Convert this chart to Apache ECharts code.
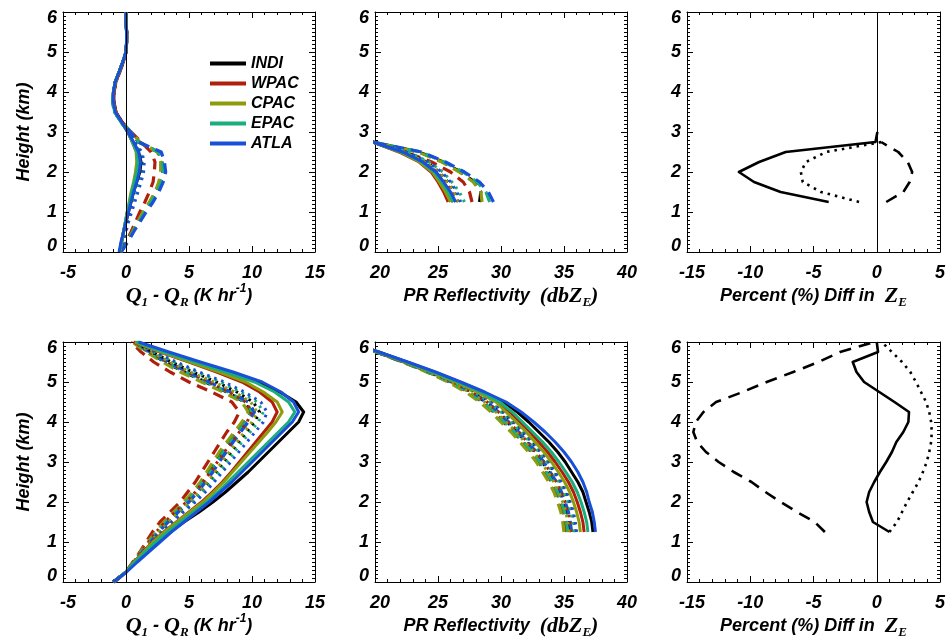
<!DOCTYPE html>
<html>
<head>
<meta charset="utf-8">
<script src="https://cdn.jsdelivr.net/npm/echarts@6/dist/echarts.min.js"></script>
<style>
  html, body { margin: 0; padding: 0; background: #fff; }
  #chart { width: 949px; height: 642px; }
</style>
</head>
<body>
<div id="chart"></div>
<script>
// ---- Regions ----
const regions = ['INDI', 'WPAC', 'CPAC', 'EPAC', 'ATLA'];

// ---- Axis ranges and ticks ----
const xRangeQ1 = [-5, 15];
const xRangeZ = [20, 40];
const xRangeDiff = [-15, 5];
const yRangeHeight = [0, 6];
const xTickStep = 5;
const yTickStep = 1;

// ---- Height levels (km) ----
const heightsFull = [0, 0.25, 0.5, 0.75, 1, 1.25, 1.5, 1.75, 2, 2.25, 2.5, 2.75, 3,
  3.25, 3.5, 3.75, 4, 4.25, 4.5, 4.75, 5, 5.25, 5.5, 5.75, 6];
const heightsZStrat = [1.25, 1.5, 1.75, 2, 2.25, 2.5, 2.75];
const heightsZConv = [1.25, 1.5, 1.75, 2, 2.25, 2.5, 2.75, 3, 3.25, 3.5, 3.75, 4,
  4.25, 4.5, 4.75, 5, 5.25, 5.5, 5.75, 6];
const heightsDiffStratSolid = [1.25, 1.5, 1.75, 2, 2.25, 2.5, 2.75, 3];
const heightsDiffStrat = [1.25, 1.5, 1.75, 2, 2.25, 2.5, 2.75];
const heightsDiffConv = heightsZConv;

// ---- Upper row: Q1 - QR (K/hr), rows = INDI, WPAC, CPAC, EPAC, ATLA ----
const q1StratSolid = [
  [-0.5,-0.35,-0.2,0.0,0.2,0.4,0.6,0.85,1.1,1.2,1.0,0.55,0.15,-0.35,-0.8,-1.0,-1.0,-0.85,-0.55,-0.25,0.0,0.05,0.05,0.0,0.0],
  [-0.5,-0.35,-0.2,-0.05,0.1,0.3,0.45,0.65,0.8,0.9,0.85,0.5,0.15,-0.35,-0.8,-0.95,-0.95,-0.8,-0.5,-0.2,0.0,0.05,0.05,0.0,0.0],
  [-0.5,-0.35,-0.2,-0.05,0.1,0.25,0.4,0.6,0.75,0.85,0.8,0.5,0.15,-0.4,-0.85,-1.0,-1.0,-0.85,-0.55,-0.25,0.0,0.05,0.05,0.0,0.0],
  [-0.5,-0.35,-0.2,-0.05,0.1,0.3,0.45,0.65,0.85,0.95,0.85,0.5,0.15,-0.4,-0.9,-1.05,-1.0,-0.85,-0.55,-0.25,0.0,0.05,0.05,0.0,0.0],
  [-0.55,-0.4,-0.2,0.0,0.2,0.4,0.6,0.85,1.05,1.15,1.0,0.6,0.15,-0.35,-0.85,-1.0,-1.0,-0.85,-0.55,-0.25,0.0,0.05,0.05,0.0,0.0]
];
const q1StratDotted = [
  [-0.5,-0.3,-0.1,0.1,0.3,0.5,0.7,0.95,1.2,1.3,1.1,0.6,0.15,-0.35,-0.8,-1.0,-1.0,-0.85,-0.55,-0.25,0,0.05,0.05,0,0],
  [-0.5,-0.3,-0.1,0.05,0.2,0.4,0.6,0.8,1.0,1.1,0.95,0.55,0.15,-0.35,-0.8,-0.95,-0.95,-0.8,-0.5,-0.2,0,0.05,0.05,0,0],
  [-0.5,-0.3,-0.1,0.05,0.25,0.45,0.65,0.85,1.05,1.15,1.0,0.55,0.15,-0.4,-0.85,-1.0,-1.0,-0.85,-0.55,-0.25,0,0.05,0.05,0,0],
  [-0.5,-0.3,-0.1,0.1,0.3,0.55,0.75,1.0,1.2,1.3,1.1,0.6,0.15,-0.4,-0.9,-1.05,-1.0,-0.85,-0.55,-0.25,0,0.05,0.05,0,0],
  [-0.45,-0.2,0.0,0.2,0.45,0.7,0.95,1.2,1.4,1.45,1.25,0.7,0.2,-0.35,-0.9,-1.0,-1.0,-0.85,-0.55,-0.25,0,0.05,0.05,0,0]
];
const q1StratDashed = [
  [-0.4,0.1,0.5,0.95,1.45,1.95,2.4,2.75,2.9,2.85,2.55,1.0,0.35,-0.35,-0.85,-1.0,-1.0,-0.85,-0.55,-0.25,0,0.05,0.05,0,0],
  [-0.45,0.0,0.4,0.75,1.1,1.5,1.85,2.15,2.25,2.3,2.0,1.2,0.4,-0.3,-0.8,-0.95,-0.95,-0.8,-0.5,-0.2,0,0.05,0.05,0,0],
  [-0.4,0.05,0.5,0.9,1.35,1.85,2.3,2.6,2.75,2.75,2.5,1.1,0.4,-0.35,-0.85,-1.0,-1.0,-0.85,-0.55,-0.25,0,0.05,0.05,0,0],
  [-0.4,0.1,0.55,1.0,1.5,2.0,2.45,2.8,2.95,2.9,2.6,1.0,0.4,-0.35,-0.9,-1.05,-1.0,-0.85,-0.55,-0.25,0,0.05,0.05,0,0],
  [-0.4,0.15,0.6,1.1,1.6,2.15,2.6,2.95,3.15,3.05,2.8,1.0,0.35,-0.35,-0.95,-1.05,-1.0,-0.85,-0.55,-0.25,0,0.05,0.05,0,0]
];

// ---- Upper row: PR reflectivity (dBZ) ----
const zStratSolid = [
  [26.2,25.8,25.3,24.7,23.7,22.1,19.8],
  [25.8,25.45,25.0,24.45,23.5,21.9,19.8],
  [26.0,25.6,25.1,24.55,23.55,22.0,19.8],
  [26.2,25.8,25.3,24.7,23.7,22.1,19.8],
  [26.4,26.0,25.45,24.85,23.8,22.2,19.8]
];
const zStratDotted = [
  [26.6,26.3,25.8,25.1,24.1,22.4,19.8],
  [26.4,26.1,25.6,24.9,23.9,22.3,19.8],
  [26.6,26.3,25.75,25.05,24.0,22.35,19.8],
  [27.1,26.7,26.1,25.4,24.3,22.6,19.8],
  [26.8,26.5,26.0,25.3,24.2,22.5,19.8]
];
const zStratDashed = [
  [28.3,28.4,27.9,26.8,25.4,23.5,19.8],
  [27.7,27.5,27.0,26.0,24.5,22.4,19.8],
  [28.5,28.4,27.8,26.7,25.3,23.4,19.8],
  [29.1,28.8,28.1,27.0,25.5,23.6,19.8],
  [29.4,29.0,28.3,27.1,25.6,23.7,19.8]
];

// ---- Upper row: percent difference in Z_E ----
const diffStratSolid = [-3.8,-7.6,-9.7,-10.9,-9.3,-7.2,-0.1,0.05];
const diffStratDotted = [-1.4,-4.4,-5.85,-6.0,-5.6,-4.0,0.4];
const diffStratDashed = [0.75,2.1,2.6,2.8,2.45,1.7,0.35];

// ---- Lower row: Q1 - QR (K/hr) ----
const q1ConvSolid = [
  [-1.0,0.0,0.7,1.5,2.4,3.5,4.6,5.8,6.9,7.9,8.8,9.7,10.5,11.3,12.1,12.9,13.7,14.1,13.5,12.2,10.4,8.0,5.5,3.0,0.9],
  [-1.0,0.0,0.65,1.35,2.1,3.0,4.0,5.0,6.0,6.85,7.65,8.35,9.0,9.65,10.3,10.95,11.6,12.0,11.6,10.6,9.2,7.2,5.0,2.7,0.6],
  [-1.0,0.0,0.65,1.4,2.15,3.05,4.05,5.05,6.1,6.95,7.75,8.45,9.15,9.85,10.55,11.25,11.9,12.4,12.0,10.9,9.5,7.4,5.1,2.8,0.7],
  [-1.0,0.0,0.7,1.5,2.35,3.3,4.3,5.35,6.4,7.3,8.1,8.9,9.7,10.5,11.3,12.1,12.9,13.4,12.9,11.8,10.2,7.9,5.5,3.0,0.8],
  [-1.0,0.05,0.9,1.8,2.7,3.6,4.6,5.6,6.6,7.5,8.4,9.2,10.0,10.8,11.6,12.4,13.2,13.7,13.3,12.3,10.8,8.5,5.9,3.4,1.0]
];
const q1ConvDashed = [
  [-1.0,0.0,0.6,1.2,1.85,2.5,3.2,4.0,4.8,5.5,6.1,6.6,7.1,7.6,8.2,8.8,9.4,9.9,9.4,8.0,6.3,4.6,3.1,1.8,0.6],
  [-0.9,0.0,0.55,1.1,1.6,2.1,2.7,3.5,4.3,4.9,5.5,6.0,6.5,7.0,7.5,8.0,8.6,9.0,8.4,6.8,5.0,3.5,2.2,1.2,0.4],
  [-1.0,0.0,0.6,1.15,1.75,2.35,3.0,3.8,4.6,5.3,5.9,6.4,6.9,7.4,8.0,8.6,9.2,9.7,9.2,7.7,6.0,4.3,2.9,1.6,0.5],
  [-1.0,0.0,0.6,1.2,1.85,2.5,3.2,4.0,4.8,5.5,6.1,6.7,7.2,7.7,8.3,8.9,9.5,10.0,9.5,8.1,6.4,4.7,3.2,1.8,0.6],
  [-1.0,0.0,0.65,1.3,1.95,2.6,3.35,4.15,5.0,5.7,6.3,6.9,7.4,7.95,8.5,9.1,9.7,10.2,9.7,8.3,6.6,4.9,3.3,1.9,0.7]
];
const q1ConvDotted = [
  [-1.0,0.0,0.65,1.3,2.0,2.7,3.45,4.3,5.2,5.95,6.6,7.2,7.8,8.4,9.0,9.6,10.2,10.6,10.1,8.8,7.2,5.3,3.6,2.1,0.7],
  [-1.0,0.0,0.6,1.2,1.8,2.4,3.1,3.9,4.8,5.5,6.1,6.7,7.25,7.8,8.4,9.0,9.6,10.0,9.5,8.2,6.6,4.9,3.3,1.9,0.6],
  [-1.0,0.0,0.65,1.3,1.95,2.6,3.35,4.2,5.05,5.8,6.45,7.05,7.6,8.2,8.8,9.4,10.0,10.4,9.9,8.6,7.0,5.1,3.5,2.0,0.7],
  [-1.0,0.0,0.7,1.35,2.05,2.8,3.6,4.45,5.35,6.1,6.8,7.4,8.0,8.6,9.2,9.85,10.5,10.9,10.4,9.1,7.5,5.6,3.8,2.2,0.8],
  [-1.0,0.0,0.7,1.4,2.1,2.85,3.65,4.55,5.5,6.3,7.0,7.65,8.3,8.95,9.6,10.25,10.9,11.2,10.7,9.4,7.8,5.8,4.0,2.3,0.8]
];

// ---- Lower row: PR reflectivity (dBZ) ----
const zConvSolid = [
  [37.3,37.2,37.0,36.75,36.5,36.1,35.6,35.1,34.5,33.8,33.0,32.2,31.3,30.2,28.6,26.7,24.7,22.5,20.3,18.0],
  [36.6,36.5,36.3,36.05,35.75,35.35,34.85,34.3,33.7,33.0,32.3,31.5,30.7,29.8,28.3,26.5,24.6,22.4,20.2,18.0],
  [36.3,36.2,36.0,35.75,35.45,35.05,34.55,34.0,33.4,32.7,32.0,31.2,30.4,29.6,28.1,26.4,24.5,22.4,20.2,18.0],
  [36.9,36.8,36.6,36.35,36.05,35.65,35.15,34.6,34.0,33.3,32.5,31.7,30.9,29.9,28.4,26.6,24.6,22.5,20.2,18.0],
  [37.5,37.4,37.25,37.0,36.8,36.5,36.1,35.6,35.0,34.3,33.5,32.6,31.6,30.4,28.7,26.8,24.8,22.6,20.3,18.0]
];
const zConvDashed = [
  [35.5,35.4,35.25,35.0,34.7,34.3,33.8,33.3,32.7,32.0,31.3,30.5,29.7,28.8,27.6,26.1,24.3,22.3,20.1,18.0],
  [35.2,35.1,34.95,34.7,34.4,34.0,33.5,33.0,32.4,31.7,31.0,30.2,29.4,28.5,27.4,25.9,24.2,22.2,20.1,18.0],
  [35.0,34.9,34.75,34.5,34.2,33.8,33.3,32.8,32.2,31.5,30.8,30.0,29.2,28.3,27.2,25.8,24.1,22.2,20.1,18.0],
  [35.3,35.2,35.05,34.8,34.5,34.1,33.6,33.1,32.5,31.8,31.1,30.3,29.5,28.6,27.5,26.0,24.2,22.2,20.1,18.0],
  [35.6,35.5,35.35,35.1,34.8,34.4,33.9,33.4,32.8,32.1,31.4,30.6,29.8,28.9,27.7,26.2,24.4,22.3,20.1,18.0]
];
const zConvDotted = [
  [35.9,35.8,35.65,35.4,35.1,34.7,34.2,33.7,33.1,32.4,31.7,30.9,30.1,29.2,28.0,26.4,24.5,22.4,20.2,18.0],
  [35.6,35.5,35.35,35.1,34.8,34.4,33.9,33.4,32.8,32.1,31.4,30.6,29.8,28.9,27.7,26.2,24.4,22.3,20.1,18.0],
  [35.4,35.3,35.15,34.9,34.6,34.2,33.7,33.2,32.6,31.9,31.2,30.4,29.6,28.7,27.5,26.0,24.3,22.3,20.1,18.0],
  [35.8,35.7,35.55,35.3,35.0,34.6,34.1,33.6,33.0,32.3,31.6,30.8,30.0,29.1,27.9,26.3,24.5,22.4,20.2,18.0],
  [36.0,35.9,35.75,35.5,35.2,34.8,34.3,33.8,33.2,32.5,31.8,31.0,30.2,29.3,28.1,26.5,24.6,22.4,20.2,18.0]
];

// ---- Lower row: percent difference in Z_E ----
const diffConvSolid = [1.0,-0.3,-0.6,-0.8,-0.6,-0.2,0.25,0.75,1.2,1.55,2.1,2.5,2.55,1.4,0.2,-1.0,-1.6,-1.9,0.1,0.0];
const diffConvDotted = [1.0,1.6,2.0,2.4,2.85,3.3,3.65,3.95,4.15,4.3,4.35,4.3,4.15,3.9,3.5,3.1,2.65,2.0,1.2,0.4];
const diffConvDashed = [-4.1,-4.9,-6.3,-7.6,-8.8,-9.9,-11.3,-12.5,-13.5,-14.2,-14.5,-14.3,-13.7,-12.7,-10.6,-8.7,-6.6,-4.6,-2.9,-0.2];

// ---------------- presentation ----------------
const regionColors = ['#000000', '#b01e0c', '#8e9c0c', '#1aae7c', '#1a50d8'];
const SANS = 'Liberation Sans';
const SERIF = 'Liberation Serif';
const DASHED = [11, 7];
const DOTTED = [2.5, 5];

const panelBoxes = [
  { left: 63,  top: 12,  width: 252, height: 240 },
  { left: 375, top: 12,  width: 252, height: 240 },
  { left: 687, top: 12,  width: 253, height: 240 },
  { left: 63,  top: 342, width: 252, height: 240 },
  { left: 375, top: 342, width: 252, height: 240 },
  { left: 687, top: 342, width: 253, height: 240 }
];
const panelXRanges = [xRangeQ1, xRangeZ, xRangeDiff, xRangeQ1, xRangeZ, xRangeDiff];

const labelFont = {
  fontFamily: SANS, fontWeight: 'bold', fontStyle: 'italic', fontSize: 18, color: '#000'
};

const titleRich = {
  t: { fontFamily: SANS, fontWeight: 'bold', fontStyle: 'italic', fontSize: 18, lineHeight: 26, color: '#000' },
  q: { fontFamily: SERIF, fontWeight: 'bold', fontStyle: 'italic', fontSize: 22, lineHeight: 26, color: '#000' },
  s: { fontFamily: SERIF, fontWeight: 'bold', fontStyle: 'italic', fontSize: 13, lineHeight: 14, verticalAlign: 'bottom', color: '#000' },
  p: { fontFamily: SANS, fontWeight: 'bold', fontStyle: 'italic', fontSize: 12, lineHeight: 14, verticalAlign: 'top', color: '#000' }
};
const xTitles = [
  '{q|Q}{s|1}{t| - }{q|Q}{s|R}{t| (K hr}{p|-1}{t|)}',
  '{t|PR Reflectivity  }{q|(dbZ}{s|E}{q|)}',
  '{t|Percent (%) Diff in  }{q|Z}{s|E}'
];

function yLabel(v) {
  if (v === yRangeHeight[1]) return '{hi|' + v + '}';
  if (v === yRangeHeight[0]) return '{lo|' + v + '}';
  return String(v);
}
function makeXAxes(p) {
  const [mn, mx] = panelXRanges[p];
  const common = {
    type: 'value', gridIndex: p, min: mn, max: mx, interval: xTickStep,
    axisLine: { show: true, onZero: false, lineStyle: { color: '#000', width: 1 } },
    axisTick: { show: true, inside: true, length: 6, lineStyle: { color: '#000', width: 1 } },
    minorTick: { show: true, splitNumber: 5, length: 3, lineStyle: { color: '#000', width: 1 } },
    splitLine: { show: false }, minorSplitLine: { show: false }
  };
  const bottom = Object.assign({}, common, {
    position: 'bottom',
    axisLabel: Object.assign({}, labelFont, {
      margin: 12,
      formatter: v => (v === mn ? '{first|' + v + '}' : String(v)),
      rich: { first: Object.assign({}, labelFont, { padding: [0, 0, 0, 10] }) }
    }),
    name: xTitles[p % 3], nameLocation: 'middle', nameGap: 31,
    nameTextStyle: { rich: titleRich }
  });
  const top = Object.assign({}, common, { position: 'top', axisLabel: { show: false } });
  return [bottom, top];
}
function makeYAxes(p) {
  const common = {
    type: 'value', gridIndex: p, min: yRangeHeight[0], max: yRangeHeight[1], interval: yTickStep,
    axisLine: { show: true, onZero: false, lineStyle: { color: '#000', width: 1 } },
    axisTick: { show: true, inside: true, length: 6, lineStyle: { color: '#000', width: 1 } },
    minorTick: { show: true, splitNumber: 10, length: 3, lineStyle: { color: '#000', width: 1 } },
    splitLine: { show: false }, minorSplitLine: { show: false }
  };
  const left = Object.assign({}, common, {
    position: 'left',
    axisLabel: Object.assign({}, labelFont, {
      margin: 6,
      formatter: yLabel,
      rich: {
        hi: Object.assign({}, labelFont, { lineHeight: 30, verticalAlign: 'bottom' }),
        lo: Object.assign({}, labelFont, { lineHeight: 30, verticalAlign: 'top' })
      }
    })
  });
  if (p % 3 === 0) {
    Object.assign(left, {
      name: 'Height (km)', nameLocation: 'middle', nameGap: 30,
      nameTextStyle: { fontFamily: SANS, fontWeight: 'bold', fontStyle: 'italic', fontSize: 18, color: '#000' }
    });
  }
  const right = Object.assign({}, common, { position: 'right', axisLabel: { show: false } });
  return [left, right];
}

const xAxes = [], yAxes = [], series = [];
for (let p = 0; p < 6; p++) {
  xAxes.push(...makeXAxes(p));
  yAxes.push(...makeYAxes(p));
}

function pairs(xs, hs) { return xs.map((x, i) => [x, hs[i]]); }
function addLine(p, name, color, xs, hs, type, width) {
  series.push({
    type: 'line', name: name, color: color,
    xAxisIndex: 2 * p, yAxisIndex: 2 * p,
    data: pairs(xs, hs), showSymbol: false, symbol: 'none',
    clip: true, silent: true,
    lineStyle: { color: color, width: width, type: type, cap: 'butt', join: 'round' }
  });
}
function addZeroLine(p) {
  series.push({
    type: 'line', xAxisIndex: 2 * p, yAxisIndex: 2 * p, data: [], silent: true,
    markLine: {
      silent: true, symbol: 'none', label: { show: false },
      lineStyle: { color: '#000', width: 1, type: 'solid' },
      data: [{ xAxis: 0 }]
    }
  });
}

// Regional profiles: dashed and dotted experiments first, control on top
function addRegionalPanel(p, hs, dashed, dotted, solid) {
  regions.forEach((r, i) => addLine(p, r, regionColors[i], dashed[i], hs, DASHED, 3.2));
  regions.forEach((r, i) => addLine(p, r, regionColors[i], dotted[i], hs, DOTTED, 3));
  regions.forEach((r, i) => addLine(p, r, regionColors[i], solid[i], hs, 'solid', 3));
}

addZeroLine(0);
addRegionalPanel(0, heightsFull, q1StratDashed, q1StratDotted, q1StratSolid);
addRegionalPanel(1, heightsZStrat, zStratDashed, zStratDotted, zStratSolid);
addZeroLine(2);
addLine(2, 'diffSolid', '#000', diffStratSolid, heightsDiffStratSolid, 'solid', 2.6);
addLine(2, 'diffDotted', '#000', diffStratDotted, heightsDiffStrat, DOTTED, 2.6);
addLine(2, 'diffDashed', '#000', diffStratDashed, heightsDiffStrat, [12, 8], 2.6);
addZeroLine(3);
addRegionalPanel(3, heightsFull, q1ConvDashed, q1ConvDotted, q1ConvSolid);
addRegionalPanel(4, heightsZConv, zConvDashed, zConvDotted, zConvSolid);
addZeroLine(5);
addLine(5, 'diffSolid', '#000', diffConvSolid, heightsDiffConv, 'solid', 2.6);
addLine(5, 'diffDotted', '#000', diffConvDotted, heightsDiffConv, DOTTED, 2.6);
addLine(5, 'diffDashed', '#000', diffConvDashed, heightsDiffConv, [12, 8], 2.6);

const option = {
  animation: false,
  backgroundColor: '#ffffff',
  grid: panelBoxes.map(b => Object.assign({ containLabel: false }, b)),
  xAxis: xAxes,
  yAxis: yAxes,
  legend: {
    data: regions.map(r => ({ name: r, icon: 'rect' })),
    orient: 'vertical', left: 205, top: 50,
    itemWidth: 36, itemHeight: 4, itemGap: 3,
    selectedMode: false,
    textStyle: { fontFamily: SANS, fontWeight: 'bold', fontStyle: 'italic', fontSize: 16, lineHeight: 17, color: '#000' }
  },
  series: series
};

const chart = echarts.init(document.getElementById('chart'), null, { renderer: 'canvas' });
chart.setOption(option);
</script>
</body>
</html>
